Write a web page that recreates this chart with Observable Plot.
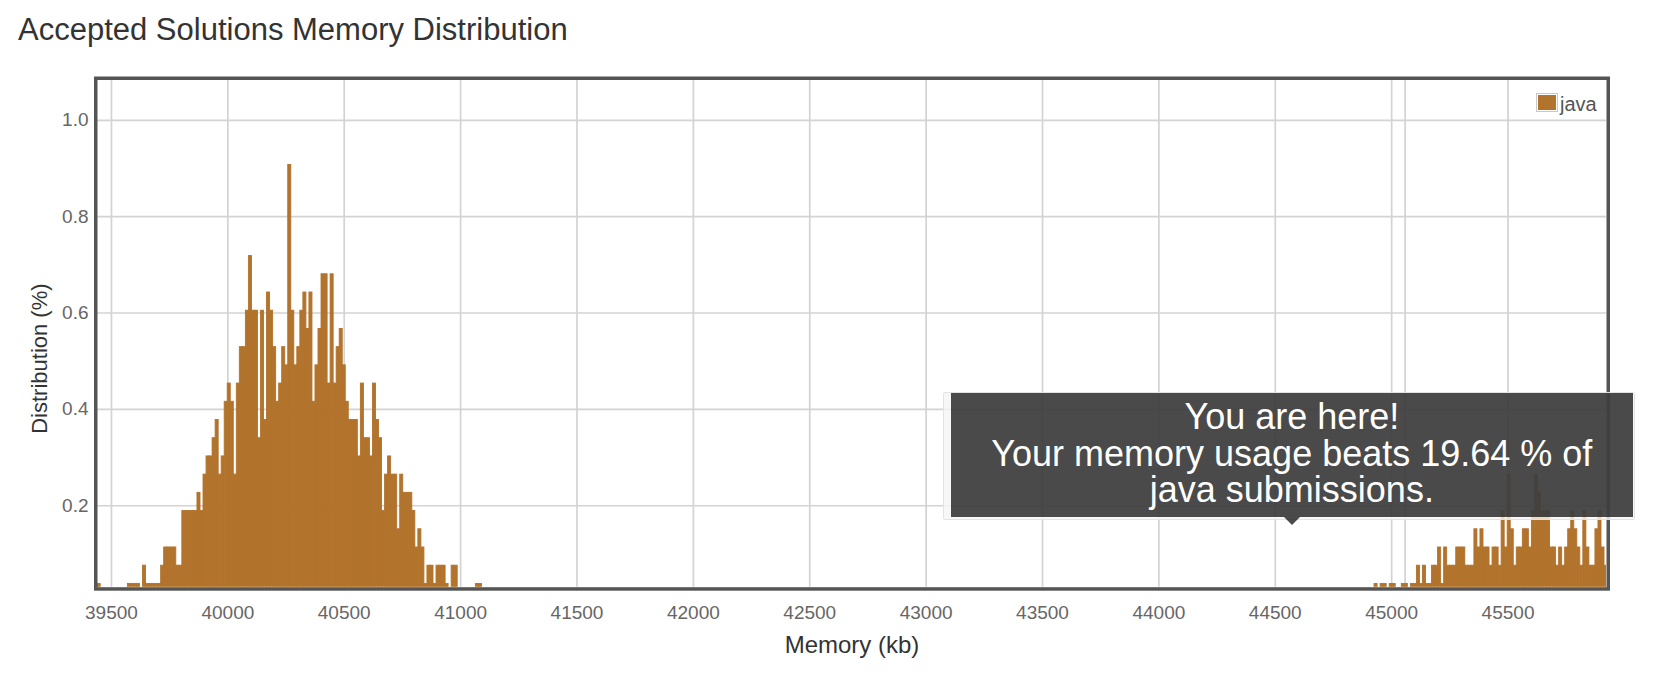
<!DOCTYPE html>
<html>
<head>
<meta charset="utf-8">
<script src="https://cdn.jsdelivr.net/npm/d3@7"></script>
<script src="https://cdn.jsdelivr.net/npm/@observablehq/plot@0.6"></script>
<style>
  body { margin: 0; background: #fff; font-family: "Liberation Sans", Arial, sans-serif; }
  #wrap { position: relative; width: 1654px; height: 684px; overflow: hidden; background: #fff; }
  #title { position: absolute; left: 18px; top: 14px; font-size: 31px; line-height: 31px; color: #333; white-space: nowrap; }
  #chart { position: absolute; left: 0; top: 60px; }
  #legend-swatch { position: absolute; left: 1536px; top: 93px; width: 18px; height: 15px; padding: 1px; border: 1.5px solid #c8c8c8; background: #b2732c; background-clip: content-box; }
  #legend-label { position: absolute; left: 1560px; top: 94px; font-size: 20px; line-height: 20px; color: #555; }
  #tip-outer { position: absolute; left: 943px; top: 391.5px; width: 690px; height: 126.5px; border: 1px solid rgba(225,225,225,0.9); background: rgba(245,245,245,0.8); border-radius: 2px; }
  #tip { position: absolute; left: 951px; top: 392.7px; width: 681.7px; height: 124.6px; background: rgba(0,0,0,0.7); }
  #tip-text { position: absolute; left: 0; right: 0; top: 6.7px; text-align: center; color: #fff; font-size: 36px; line-height: 36.3px; }
  #tip-arrow { position: absolute; left: 1283.5px; top: 517.3px; width: 0; height: 0; border-left: 8px solid transparent; border-right: 8px solid transparent; border-top: 8px solid rgba(0,0,0,0.7); }
</style>
</head>
<body>
<div id="wrap">
  <div id="title">Accepted Solutions Memory Distribution</div>
  <div id="chart"></div>
  <div id="legend-swatch"></div>
  <div id="legend-label">java</div>
  <div id="tip-outer"></div>
  <div id="tip"><div id="tip-text">You are here!<br>Your memory usage beats 19.64 % of<br>java submissions.</div></div>
  <div id="tip-arrow"></div>
</div>
<script>
// Memory (kb) at the centre of each bar
const memoryKb = [
  39447, 39577, 39590, 39603, 39616, 39642, 39655, 39668, 39681, 39694,
  39707, 39720, 39733, 39746, 39759, 39772, 39785, 39798, 39811, 39824,
  39837, 39850, 39863, 39876, 39889, 39902, 39915, 39928, 39941, 39954,
  39967, 39980, 39993, 40006, 40019, 40032, 40045, 40058, 40071, 40084,
  40097, 40110, 40123, 40136, 40149, 40162, 40175, 40188, 40201, 40214,
  40227, 40240, 40253, 40266, 40279, 40292, 40305, 40318, 40331, 40344,
  40357, 40370, 40383, 40396, 40409, 40422, 40435, 40448, 40461, 40474,
  40487, 40500, 40513, 40526, 40539, 40552, 40565, 40578, 40591, 40604,
  40617, 40630, 40643, 40656, 40669, 40682, 40695, 40708, 40721, 40734,
  40747, 40760, 40773, 40786, 40799, 40812, 40825, 40838, 40851, 40864,
  40877, 40890, 40903, 40916, 40929, 40942, 40968, 40981, 41072, 41085,
  44933, 44959, 44972, 44998, 45011, 45050, 45063, 45089, 45102, 45115,
  45128, 45141, 45154, 45167, 45180, 45193, 45206, 45219, 45232, 45245,
  45258, 45271, 45284, 45297, 45310, 45323, 45336, 45349, 45362, 45375,
  45388, 45401, 45414, 45427, 45440, 45453, 45466, 45479, 45492, 45505,
  45518, 45531, 45544, 45557, 45570, 45583, 45596, 45609, 45622, 45635,
  45648, 45661, 45674, 45687, 45700, 45713, 45726, 45739, 45752, 45765,
  45778, 45791, 45804, 45817, 45830, 45843, 45856, 45869, 45882, 45895,
  45908, 45921
];
// Distribution (%) of each bar
const distributionPct = [
  0.0378, 0.0378, 0.0378, 0.0378, 0.0378, 0.0756, 0.0378, 0.0378, 0.0378, 0.0378,
  0.0378, 0.0756, 0.1134, 0.1134, 0.1134, 0.1134, 0.0756, 0.0756, 0.1890, 0.1890,
  0.1890, 0.1890, 0.1890, 0.2268, 0.1890, 0.2646, 0.3024, 0.3024, 0.3402, 0.3780,
  0.2646, 0.3024, 0.4158, 0.4536, 0.4158, 0.2646, 0.4536, 0.5292, 0.5292, 0.6048,
  0.7182, 0.6048, 0.6048, 0.3402, 0.6048, 0.3780, 0.6426, 0.6048, 0.5292, 0.4158,
  0.4536, 0.5292, 0.4914, 0.9072, 0.6048, 0.4914, 0.5292, 0.6048, 0.6426, 0.5670,
  0.6426, 0.4158, 0.4914, 0.5670, 0.6804, 0.6804, 0.4536, 0.6804, 0.4536, 0.5292,
  0.5670, 0.4914, 0.4158, 0.3780, 0.3780, 0.3780, 0.3024, 0.4536, 0.3402, 0.3402,
  0.3024, 0.4536, 0.3780, 0.3402, 0.1890, 0.2646, 0.3024, 0.2646, 0.2646, 0.1512,
  0.2646, 0.2268, 0.2268, 0.2268, 0.1890, 0.1134, 0.1512, 0.1134, 0.0378, 0.0756,
  0.0756, 0.0378, 0.0756, 0.0756, 0.0756, 0.0378, 0.0756, 0.0756, 0.0378, 0.0378,
  0.0378, 0.0378, 0.0378, 0.0378, 0.0378, 0.0378, 0.0378, 0.0378, 0.0378, 0.0756,
  0.0378, 0.0756, 0.0378, 0.0378, 0.0756, 0.0756, 0.1134, 0.0378, 0.1134, 0.0756,
  0.0756, 0.0756, 0.1134, 0.1134, 0.1134, 0.0756, 0.0756, 0.0756, 0.1512, 0.1134,
  0.1512, 0.1134, 0.1134, 0.0756, 0.1134, 0.1134, 0.0756, 0.1890, 0.1134, 0.2646,
  0.1512, 0.0756, 0.1134, 0.1134, 0.1512, 0.1512, 0.1134, 0.1890, 0.2646, 0.2268,
  0.1890, 0.1890, 0.1890, 0.1134, 0.1134, 0.0756, 0.1134, 0.0756, 0.1134, 0.1512,
  0.1890, 0.1512, 0.1134, 0.0756, 0.1890, 0.1134, 0.0756, 0.0756, 0.1512, 0.1890,
  0.1134, 0.0756
];
const binWidthKb = 13;
const xTicks = [39500, 40000, 40500, 41000, 41500, 42000, 42500, 43000, 43500, 44000, 44500, 45000, 45500];
const yTicks = [0.2, 0.4, 0.6, 0.8, 1.0];
const xDomain = [39440, 45923];
const yDomain = [0.031, 1.0836];
const extraLineKb = [45058];
const seriesName = "java";
const xTitle = "Memory (kb)";
const yTitle = "Distribution (%)";

const bars = memoryKb.map((m, i) => ({memory: m, pct: distributionPct[i], lang: seriesName}));
const barColor = "#b2732c";

const chart = Plot.plot({
  width: 1654,
  height: 624,
  marginLeft: 97,
  marginRight: 48,
  marginTop: 19.5,
  marginBottom: 97.3,
  style: {fontFamily: '"Liberation Sans", Arial, sans-serif', background: "#fff", overflow: "visible"},
  x: {type: "linear", domain: xDomain},
  y: {type: "linear", domain: yDomain},
  marks: [
    Plot.gridX(xTicks, {stroke: "#d3d3d3", strokeOpacity: 1, strokeWidth: 1.7}),
    Plot.gridY(yTicks, {stroke: "#d3d3d3", strokeOpacity: 1, strokeWidth: 1.7}),
    Plot.ruleX(extraLineKb, {stroke: "#d3d3d3", strokeWidth: 1.7}),
    Plot.rectY(bars, {
      x1: d => d.memory - binWidthKb / 2,
      x2: d => d.memory + binWidthKb / 2,
      y1: yDomain[0],
      y2: "pct",
      fill: barColor,
      stroke: barColor,
      strokeWidth: 0.9,
      clip: true
    }),
    Plot.frame({stroke: "#555", strokeWidth: 3.5, inset: -1.75}),
    Plot.axisX(xTicks, {tickSize: 0, tickPadding: 18, fontSize: 19, color: "#666", label: null, tickFormat: d3.format("d")}),
    Plot.axisY(yTicks, {tickSize: 0, tickPadding: 9, fontSize: 19, color: "#666", label: null, tickFormat: d3.format(".1f")}),
    Plot.text([xTitle], {frameAnchor: "bottom", textAnchor: "middle", lineAnchor: "middle", dy: 58, fontSize: 24, fill: "#333"}),
    Plot.text([yTitle], {frameAnchor: "left", textAnchor: "middle", lineAnchor: "middle", rotate: -90, dx: -58, dy: 25, fontSize: 22, fill: "#333"})
  ]
});
document.getElementById("chart").appendChild(chart);
</script>
</body>
</html>
